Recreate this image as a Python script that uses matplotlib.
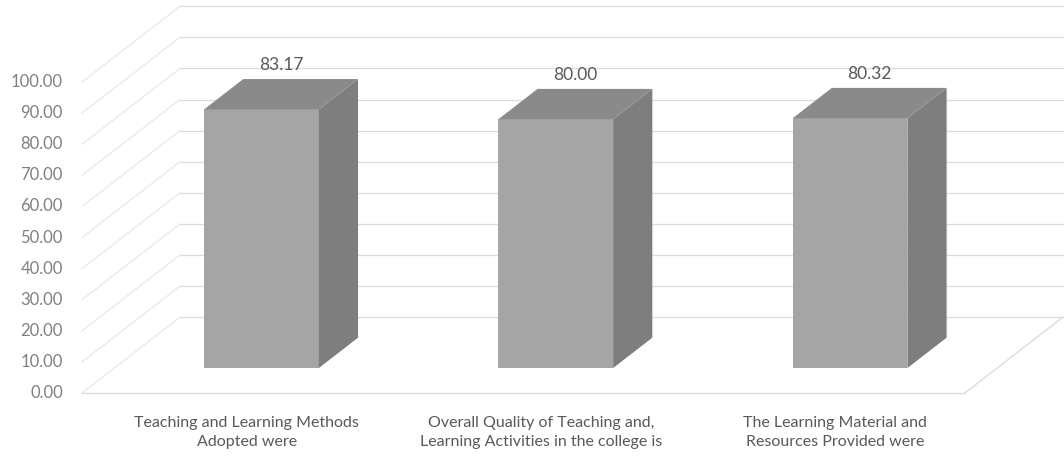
import matplotlib.pyplot as plt
from matplotlib.patches import Polygon
import numpy as np

plt.rcParams['font.family'] = ['Lato', 'DejaVu Sans']

categories = ["Teaching and Learning Methods\nAdopted were",
              "Overall Quality of Teaching and,\nLearning Activities in the college is",
              "The Learning Material and\nResources Provided were"]
values = [83.17, 80.00, 80.32]
ticks = [0, 10, 20, 30, 40, 50, 60, 70, 80, 90, 100]

D = 0.333   # full depth, x shift (category units)
DY = 24.4   # full depth, y shift (value units)
f0 = 0.33   # depth where the bar front sits
t = 0.40    # bar depth
w = 0.39    # bar width

fig = plt.figure(figsize=(10.64, 4.59), dpi=100)
ax = fig.add_axes([0, 0, 1, 1])
ax.set_xlim(-0.7786, 2.837)
ax.set_ylim(-21.2, 126.4)
ax.axis('off')

grid_c = '#dcdcdc'
# back wall and left wall gridlines
for v in ticks:
    ax.plot([-0.5 + D, 2.5 + D], [v + DY, v + DY], color=grid_c, lw=0.9, zorder=1)
    ax.plot([-0.5, -0.5 + D], [v, v + DY], color='#e6e6e6', lw=0.8, zorder=1)
    ax.text(-0.565, v, '%.2f' % v, ha='right', va='center',
            fontsize=12, color='#808080')

# floor edges
ax.plot([-0.5, 2.5], [0, 0], color=grid_c, lw=1.0, zorder=1)
ax.plot([2.5, 2.5 + D], [0, DY], color=grid_c, lw=1.0, zorder=1)

x = np.arange(len(values))
xf = x + f0 * D
y0 = f0 * DY
ax.bar(xf, values, width=w, bottom=y0, color='#a5a5a5', edgecolor='none', zorder=3)

for xi, h in zip(xf, values):
    r = xi + w / 2
    l = xi - w / 2
    top = y0 + h
    # right side face
    side = Polygon([(r, y0), (r + t * D, y0 + t * DY), (r + t * D, top + t * DY), (r, top)],
                   closed=True, facecolor='#7e7e7e', edgecolor='none', zorder=3)
    ax.add_patch(side)
    # top face
    lid = Polygon([(l, top), (r, top), (r + t * D, top + t * DY), (l + t * D, top + t * DY)],
                  closed=True, facecolor='#8a8a8a', edgecolor='none', zorder=3)
    ax.add_patch(lid)
    ax.text(xi + t * D / 2, top + t * DY + 4.5, '%.2f' % h, ha='center', va='center',
            fontsize=12.5, color='#595959', zorder=4)

# category labels under the floor
for xi, lab in zip(x, categories):
    ax.text(xi + 0.06, -7.5, lab, ha='center', va='top', fontsize=11.5,
            color='#595959', linespacing=1.45)

fig.savefig('out.png', dpi=100)
